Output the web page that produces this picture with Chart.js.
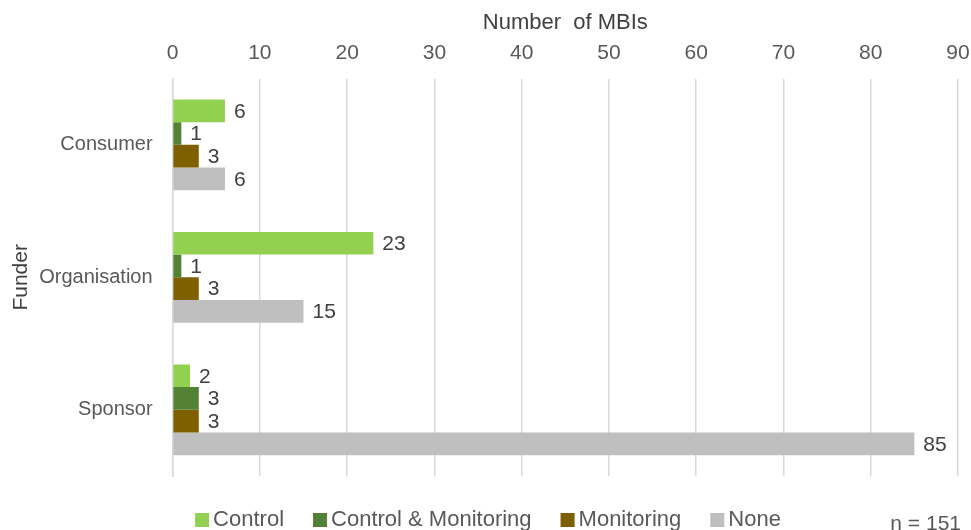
<!DOCTYPE html>
<html>
<head>
<meta charset="utf-8">
<script src="https://cdn.jsdelivr.net/npm/chart.js@4/dist/chart.umd.min.js"></script>
<style>
  html, body { margin: 0; padding: 0; background: #fff; }
  #wrap { width: 971px; height: 530px; }
</style>
</head>
<body>
<div id="wrap"><canvas id="myChart" width="971" height="530"></canvas></div>
<script>
// data
var funders = ["Consumer", "Organisation", "Sponsor"];
var control = [6, 23, 2];
var controlMonitoring = [1, 1, 3];
var monitoring = [3, 3, 3];
var none = [6, 15, 85];
var xTicks = [0, 10, 20, 30, 40, 50, 60, 70, 80, 90];

var txtColor = "#595959";
var fam = "'Liberation Sans', Arial, sans-serif";

// labels at end of each bar + legend + n note
var barLabels = {
    id: "barLabels",
    afterDatasetsDraw: function (chart) {
        var ctx = chart.ctx;
        ctx.save();
        ctx.font = "21px " + fam;
        ctx.fillStyle = "#404040";
        ctx.textBaseline = "middle";
        ctx.textAlign = "left";
        chart.data.datasets.forEach(function (ds, i) {
            var meta = chart.getDatasetMeta(i);
            meta.data.forEach(function (bar, j) {
                ctx.fillText(String(ds.data[j]), bar.x + 9, bar.y + 1);
            });
        });

        // legend (own drawing so the spacing matches)
        ctx.font = "22px " + fam;
        var box = 14, gap = 4, itemGap = 29;
        var dsets = chart.data.datasets;
        var total = 0;
        dsets.forEach(function (ds, i) {
            total += box + gap + ctx.measureText(ds.label).width;
            if (i < dsets.length - 1) total += itemGap;
        });
        var x = 488 - total / 2;
        var cy = 520;
        dsets.forEach(function (ds) {
            ctx.fillStyle = ds.backgroundColor;
            ctx.fillRect(x, cy - 7, box, box);
            x += box + gap;
            ctx.fillStyle = txtColor;
            ctx.fillText(ds.label, x, cy);
            x += ctx.measureText(ds.label).width + itemGap;
        });

        // sample size note
        ctx.font = "21px " + fam;
        ctx.fillStyle = txtColor;
        ctx.textAlign = "right";
        ctx.fillText("n = 151", 961, 524);
        ctx.restore();
    }
};

const config = {
    type: "bar",
    data: {
        labels: funders,
        datasets: [
            {label: "Control", data: control, backgroundColor: "#92D050"},
            {label: "Control & Monitoring", data: controlMonitoring, backgroundColor: "#548235"},
            {label: "Monitoring", data: monitoring, backgroundColor: "#7F6000"},
            {label: "None", data: none, backgroundColor: "#BFBFBF"}
        ]
    },
    options: {
        indexAxis: "y",
        responsive: false,
        animation: false,
        categoryPercentage: 0.685,
        barPercentage: 1.0,
        layout: {padding: {left: 4, right: 0, top: 10, bottom: 54}},
        scales: {
            x: {
                position: "top",
                min: 0,
                max: 90,
                afterBuildTicks: function (axis) {
                    axis.ticks = xTicks.map(function (v) { return {value: v}; });
                },
                // chart.js counts tick padding twice, take the extra back
                afterFit: function (axis) {
                    axis.height -= 13;
                    axis.paddingRight = 13;
                },
                grid: {color: "#D9D9D9", lineWidth: 1.5, drawTicks: false},
                border: {display: false},
                ticks: {color: txtColor, padding: 13, font: {size: 21, family: fam}},
                title: {
                    display: true,
                    text: "Number  of MBIs",
                    color: "#404040",
                    padding: {top: 0, bottom: 4},
                    font: {size: 22, family: fam}
                }
            },
            y: {
                afterFit: function (axis) {
                    axis.width -= 20;
                },
                grid: {display: false, drawTicks: false},
                border: {display: true, color: "#D9D9D9", width: 1.5},
                ticks: {color: txtColor, padding: 20, font: {size: 20, family: fam}},
                title: {
                    display: true,
                    text: "Funder",
                    color: "#404040",
                    padding: {top: 5, bottom: 5},
                    font: {size: 21, family: fam}
                }
            }
        },
        plugins: {
            legend: {display: false},
            tooltip: {enabled: false}
        }
    },
    plugins: [barLabels]
};

const myChart = new Chart(document.getElementById("myChart"), config);
</script>
</body>
</html>
